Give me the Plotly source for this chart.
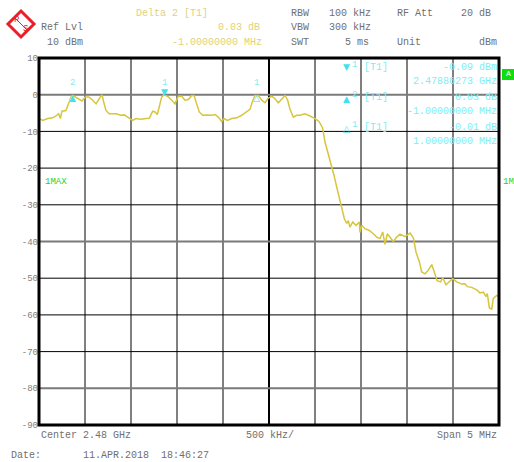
import plotly.graph_objects as go

# ---------------- data ----------------
freq_mhz = [2477.503, 2477.540, 2477.595, 2477.649, 2477.685, 2477.714, 2477.732, 2477.750,
            2477.793, 2477.818, 2477.848, 2477.866, 2477.921, 2477.967, 2478.003, 2478.040,
            2478.084, 2478.120, 2478.155, 2478.185, 2478.203, 2478.228, 2478.264, 2478.337,
            2478.391, 2478.427, 2478.464, 2478.518, 2478.554, 2478.609, 2478.663, 2478.699,
            2478.736, 2478.761, 2478.786, 2478.808, 2478.834, 2478.859, 2478.906, 2478.943,
            2478.978, 2479.014, 2479.051, 2479.087, 2479.123, 2479.160, 2479.185, 2479.214,
            2479.242, 2479.279, 2479.323, 2479.377, 2479.413, 2479.449, 2479.486, 2479.511,
            2479.547, 2479.595, 2479.649, 2479.703, 2479.758, 2479.793, 2479.818, 2479.848,
            2479.884, 2479.921, 2479.957, 2479.993, 2480.030, 2480.065, 2480.101, 2480.138,
            2480.174, 2480.203, 2480.228, 2480.264, 2480.301, 2480.337, 2480.391, 2480.446,
            2480.500, 2480.543, 2480.582, 2480.609, 2480.645, 2480.682, 2480.707, 2480.736,
            2480.764, 2480.790, 2480.819, 2480.845, 2480.862, 2480.880, 2480.910, 2480.946,
            2480.982, 2480.989, 2481.008, 2481.043, 2481.090, 2481.134, 2481.171, 2481.207,
            2481.236, 2481.261, 2481.286, 2481.351, 2481.388, 2481.424, 2481.478, 2481.533,
            2481.569, 2481.598, 2481.634, 2481.660, 2481.696, 2481.732, 2481.769, 2481.797,
            2481.826, 2481.866, 2481.888, 2481.924, 2481.960, 2481.997, 2482.040, 2482.095,
            2482.131, 2482.156, 2482.204, 2482.258, 2482.293, 2482.330, 2482.359, 2482.373,
            2482.395, 2482.421, 2482.438, 2482.475, 2482.500]
level_dbm = [-6.5, -7.0, -6.5, -6.3, -5.8, -5.2, -6.5, -4.5,
             -4.3, -2.5, -0.6, -0.2, -0.9, -1.7, -0.6, -0.6,
             -1.5, -2.5, -1.1, 0.0, -2.0, -4.3, -5.2, -5.2,
             -5.6, -5.5, -6.1, -7.0, -6.5, -6.7, -6.5, -6.4,
             -4.5, -4.7, -5.4, -2.9, -0.6, 0.0, -0.6, -1.5,
             -2.5, -0.4, -0.4, -1.5, -1.3, -0.2, -0.2, -2.5,
             -4.7, -5.6, -5.5, -5.6, -5.4, -6.1, -7.3, -6.5,
             -7.0, -6.5, -6.3, -5.6, -4.7, -4.0, -2.0, -0.2,
             -0.2, -1.5, -2.2, -0.9, -0.4, -1.1, -2.2, -1.3,
             -0.2, -1.5, -4.0, -6.1, -5.6, -5.6, -5.2, -5.8,
             -6.5, -7.3, -9.0, -12.9, -16.1, -19.3, -22.0, -25.2,
             -28.3, -31.1, -33.8, -35.1, -34.3, -36.1, -34.7, -35.6,
             -34.7, -37.5, -35.6, -36.5, -37.0, -37.9, -38.8, -39.2,
             -37.4, -40.8, -37.9, -40.0, -38.8, -38.0, -38.7, -37.7,
             -39.0, -42.9, -45.5, -48.3, -48.8, -47.8, -46.3, -48.3,
             -50.7, -51.0, -49.8, -51.8, -51.0, -50.1, -51.0, -51.6,
             -51.5, -52.3, -52.5, -53.2, -54.0, -53.8, -55.0, -54.2,
             -58.1, -58.4, -55.5, -54.7, -55.2]

marker_freq = [2478.86273, 2477.86273, 2479.86273]
marker_level = [-0.09, -0.06, -0.10]
marker_glyph = ["▼", "▲", "△"]
marker_num = ["1", "2", "1"]

y_ticks = [10, 0, -10, -20, -30, -40, -50, -60, -70, -80, -90]
y_ticktext = ["10", "0", "-10", "-20", "-30", "-40", "-50", "-60", "-70", "-80", "-90"]
x_grid = [2477.5, 2478.0, 2478.5, 2479.0, 2479.5, 2480.0, 2480.5, 2481.0, 2481.5, 2482.0, 2482.5]

# ---------------- layout helpers ----------------
W, H = 514, 462
L, R, T, B = 39, 499, 58, 425
FONT = "Liberation Mono"
GRAY = "#707070"
YEL = "#e0d27a"
CYAN = "#7eeef2"
CYAN_M = "#3fe3ee"
GREEN = "#22d422"
RED = "#e8202a"


def px(x):
    return (x - L) / (R - L)


def py(y):
    return (B - y) / (B - T)


fig = go.Figure()
fig.add_trace(go.Scatter(x=freq_mhz, y=level_dbm, mode="lines",
                         line=dict(color="#d6c63c", width=1.5), hoverinfo="skip"))

shapes = []
for xv in x_grid[1:-1]:
    shapes.append(dict(type="line", xref="x", yref="paper", x0=xv, x1=xv, y0=0, y1=1,
                       line=dict(color="black", width=2 if xv == 2480.0 else 1), layer="below"))
for yv in y_ticks[1:-1]:
    grayish = yv in (0, -40, -80)
    shapes.append(dict(type="line", xref="paper", yref="y", x0=0, x1=1, y0=yv, y1=yv,
                       line=dict(color="#7a7a7a" if grayish else "black", width=2 if grayish else 1),
                       layer="below"))
shapes.append(dict(type="rect", xref="paper", yref="paper", x0=0, x1=1, y0=0, y1=1,
                   line=dict(color="black", width=3)))
# logo diamond
cx, cy, s = 21, 24, 13
path = "M {} {} L {} {} L {} {} L {} {} Z".format(px(cx), py(cy - s), px(cx + s), py(cy),
                                                  px(cx), py(cy + s), px(cx - s), py(cy))
shapes.append(dict(type="path", xref="paper", yref="paper", path=path,
                   line=dict(color=RED, width=3), fillcolor="white"))
shapes.append(dict(type="line", xref="paper", yref="paper", x0=px(14), y0=py(17), x1=px(28), y1=py(31),
                   line=dict(color=RED, width=1)))
# green "A" box
shapes.append(dict(type="rect", xref="paper", yref="paper", x0=px(502), x1=px(514),
                   y0=py(80), y1=py(69), line=dict(width=0), fillcolor="#10dd10"))

ann = []


def text(x, y, t, color=GRAY, anchor="left", size=10, family=FONT):
    ann.append(dict(x=px(x), y=py(y), xref="paper", yref="paper", text=t, showarrow=False,
                    xanchor=anchor, yanchor="middle", font=dict(family=family, size=size, color=color)))


# header
text(39, 28, "Ref Lvl")
text(45, 43, "10 dBm")
text(134, 13, "Delta 2 [T1]", YEL)
text(262, 28, "0.03 dB", YEL, "right")
text(264, 43, "-1.00000000 MHz", YEL, "right")
text(289, 13, "RBW")
text(327, 13, "100 kHz")
text(289, 28, "VBW")
text(327, 28, "300 kHz")
text(289, 43, "SWT")
text(343, 43, "5 ms")
text(395, 13, "RF Att")
text(459, 13, "20 dB")
text(395, 43, "Unit")
text(499, 43, "dBm", GRAY, "right")
# marker info
text(341, 67, "▼", CYAN_M, size=9, family="DejaVu Sans")
text(350, 65, "1", CYAN, size=9)
text(362, 68, "[T1]", CYAN)
text(499, 68, "-0.09 dBm", CYAN, "right")
text(499, 82, "2.47886273 GHz", CYAN, "right")
text(341, 99, "▲", CYAN_M, size=9, family="DejaVu Sans")
text(350, 95, "2", CYAN, size=9)
text(362, 97, "[T1]", CYAN)
text(499, 97, "0.03 dB", CYAN, "right")
text(499, 112, "-1.00000000 MHz", CYAN, "right")
text(341, 129, "△", CYAN_M, size=9, family="DejaVu Sans")
text(350, 125, "1", CYAN, size=9)
text(362, 127, "[T1]", CYAN)
text(499, 127, "-0.01 dB", CYAN, "right")
text(499, 141, "1.00000000 MHz", CYAN, "right")
# side labels
text(43, 182, "1MAX", GREEN, size=9)
text(501, 182, "1M", GREEN, size=9)
text(508, 74, "A", "white", "center", size=8)
# footer
text(39, 435, "Center 2.48 GHz")
text(244, 435, "500 kHz/")
text(499, 435, "Span 5 MHz", GRAY, "right")
text(9, 455, "Date:")
text(81, 455, "11.APR.2018  18:46:27")
# logo letters
text(17, 20, "R", RED, "center", size=9)
text(25, 29, "S", RED, "center", size=9)

# trace markers
for f, lv, g, n in zip(marker_freq, marker_level, marker_glyph, marker_num):
    down = g == "▼"
    ann.append(dict(x=f, y=lv, xref="x", yref="y", text=g, showarrow=False,
                    yshift=3 if down else -3, xanchor="center", yanchor="middle",
                    font=dict(family="DejaVu Sans", size=9, color=CYAN_M)))
    ann.append(dict(x=f, y=lv, xref="x", yref="y", text=n, showarrow=False,
                    yshift=12, xanchor="center", yanchor="middle",
                    font=dict(family=FONT, size=9, color=CYAN)))

fig.update_layout(
    width=W, height=H,
    margin=dict(l=L, r=W - R, t=T, b=H - B),
    paper_bgcolor="white", plot_bgcolor="white",
    showlegend=False,
    shapes=shapes, annotations=ann,
    xaxis=dict(range=[2477.5, 2482.5], showgrid=False, zeroline=False, showticklabels=False,
               ticks="", showline=False, fixedrange=True),
    yaxis=dict(range=[-90, 10], tickvals=y_ticks, ticktext=y_ticktext, showgrid=False,
               zeroline=False, ticks="", showline=False, fixedrange=True,
               tickfont=dict(family=FONT, size=9, color="#808080")),
)

fig.write_html("out.html", config={"displayModeBar": False},
               post_script="document.body.style.margin='0px';document.body.style.overflow='hidden';")
